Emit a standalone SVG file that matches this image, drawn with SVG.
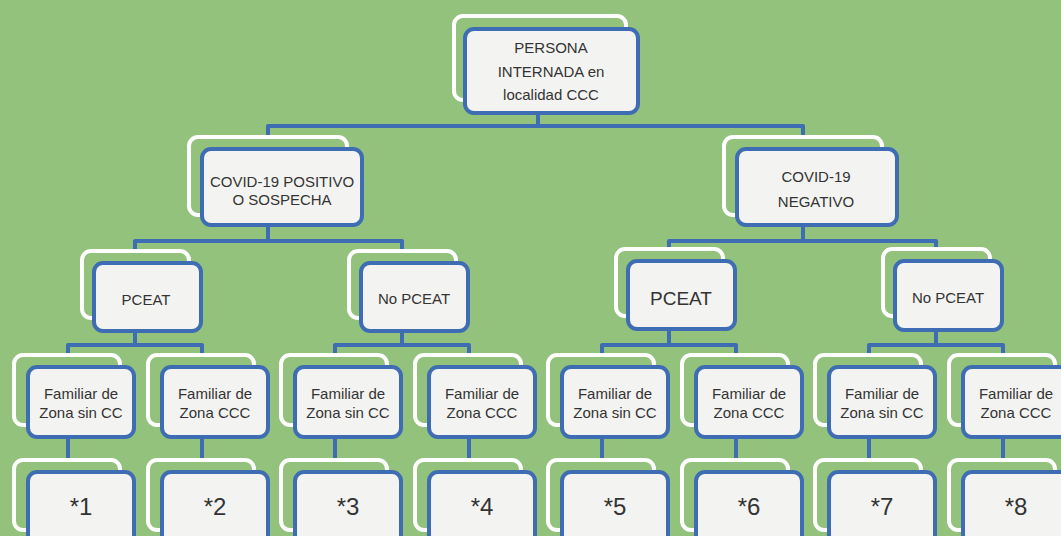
<svg xmlns="http://www.w3.org/2000/svg" width="1061" height="536" viewBox="0 0 1061 536">
<style>
.bg{fill:#92c27b}
.sh{fill:none;stroke:#ffffff;stroke-width:4}
.bx{fill:#f3f4f2;stroke:#3f6db4;stroke-width:4}
.cn{fill:none;stroke:#3f6db4;stroke-width:4;stroke-linejoin:round}
text{font-family:"Liberation Sans",Arial,sans-serif;fill:#333333;text-anchor:middle;font-size:15px}
.lf{font-size:24px}
.big{font-size:19px}
</style>
<rect class="bg" x="0" y="0" width="1061" height="536"/>
<g id="connectors">
<path class="cn" d="M538,100 V126 M268,137 V126 H803 V137"/>
<path class="cn" d="M268,200 V241 M135,251 V241 H402 V251"/>
<path class="cn" d="M803,200 V241 M669,249 V241 H936 V249"/>
<path class="cn" d="M135,300 V345 M68,355 V345 H202 V355"/>
<path class="cn" d="M402,300 V345 M335,355 V345 H469 V355"/>
<path class="cn" d="M669,300 V345 M602,355 V345 H736 V355"/>
<path class="cn" d="M936,300 V345 M869,355 V345 H1003 V355"/>
<path class="cn" d="M68,400 V460 M202,400 V460 M335,400 V460 M469,400 V460 M602,400 V460 M736,400 V460 M869,400 V460 M1003,400 V460"/>
</g>
<g id="n-root">
<rect class="sh" x="454" y="16" width="172" height="84" rx="9"/>
<rect class="bx" x="465" y="29" width="173" height="84" rx="9"/>
<text x="551" y="53">PERSONA</text>
<text x="551" y="77">INTERNADA en</text>
<text x="551" y="100">localidad CCC</text>
</g>
<g id="n-pos">
<rect class="sh" x="189" y="137" width="158" height="78" rx="9"/>
<rect class="bx" x="202" y="149" width="160" height="76" rx="9"/>
<text x="282" y="187">COVID-19 POSITIVO</text>
<text x="282" y="205">O SOSPECHA</text>
</g>
<g id="n-neg">
<rect class="sh" x="724" y="137" width="158" height="78" rx="9"/>
<rect class="bx" x="737" y="149" width="160" height="76" rx="9"/>
<text x="816" y="182">COVID-19</text>
<text x="816" y="207">NEGATIVO</text>
</g>
<g id="n-pceat1">
<rect class="sh" x="82" y="251" width="107" height="67" rx="9"/>
<rect class="bx" x="94" y="263" width="107" height="68" rx="9"/>
<text x="146" y="305">PCEAT</text>
</g>
<g id="n-nopceat1">
<rect class="sh" x="349" y="251" width="107" height="67" rx="9"/>
<rect class="bx" x="361" y="263" width="107" height="68" rx="9"/>
<text x="414" y="304">No PCEAT</text>
</g>
<g id="n-pceat2">
<rect class="sh" x="616" y="249" width="107" height="67" rx="9"/>
<rect class="bx" x="628" y="261" width="107" height="68" rx="9"/>
<text class="big" x="681" y="305">PCEAT</text>
</g>
<g id="n-nopceat2">
<rect class="sh" x="883" y="249" width="107" height="67" rx="9"/>
<rect class="bx" x="895" y="261" width="107" height="69" rx="9"/>
<text x="948" y="303">No PCEAT</text>
</g>
<g id="n-f1">
<rect class="sh" x="14" y="355" width="106" height="70" rx="9"/>
<rect class="bx" x="28" y="367" width="106" height="70" rx="9"/>
<text x="81" y="399">Familiar de</text>
<text x="81" y="418">Zona sin CC</text>
</g>
<g id="n-f2">
<rect class="sh" x="148" y="355" width="106" height="70" rx="9"/>
<rect class="bx" x="162" y="367" width="106" height="70" rx="9"/>
<text x="215" y="399">Familiar de</text>
<text x="215" y="418">Zona CCC</text>
</g>
<g id="n-f3">
<rect class="sh" x="281" y="355" width="106" height="70" rx="9"/>
<rect class="bx" x="295" y="367" width="106" height="70" rx="9"/>
<text x="348" y="399">Familiar de</text>
<text x="348" y="418">Zona sin CC</text>
</g>
<g id="n-f4">
<rect class="sh" x="415" y="355" width="106" height="70" rx="9"/>
<rect class="bx" x="429" y="367" width="106" height="70" rx="9"/>
<text x="482" y="399">Familiar de</text>
<text x="482" y="418">Zona CCC</text>
</g>
<g id="n-f5">
<rect class="sh" x="548" y="355" width="106" height="70" rx="9"/>
<rect class="bx" x="562" y="367" width="106" height="70" rx="9"/>
<text x="615" y="399">Familiar de</text>
<text x="615" y="418">Zona sin CC</text>
</g>
<g id="n-f6">
<rect class="sh" x="682" y="355" width="106" height="70" rx="9"/>
<rect class="bx" x="696" y="367" width="106" height="70" rx="9"/>
<text x="749" y="399">Familiar de</text>
<text x="749" y="418">Zona CCC</text>
</g>
<g id="n-f7">
<rect class="sh" x="815" y="355" width="106" height="70" rx="9"/>
<rect class="bx" x="829" y="367" width="106" height="70" rx="9"/>
<text x="882" y="399">Familiar de</text>
<text x="882" y="418">Zona sin CC</text>
</g>
<g id="n-f8">
<rect class="sh" x="949" y="355" width="106" height="70" rx="9"/>
<rect class="bx" x="963" y="367" width="106" height="70" rx="9"/>
<text x="1016" y="399">Familiar de</text>
<text x="1016" y="418">Zona CCC</text>
</g>
<g id="n-r1">
<rect class="sh" x="14" y="460" width="106" height="70" rx="9"/>
<rect class="bx" x="28" y="472" width="106" height="76" rx="9"/>
<text class="lf" x="81" y="515">*1</text>
</g>
<g id="n-r2">
<rect class="sh" x="148" y="460" width="106" height="70" rx="9"/>
<rect class="bx" x="162" y="472" width="106" height="76" rx="9"/>
<text class="lf" x="215" y="515">*2</text>
</g>
<g id="n-r3">
<rect class="sh" x="281" y="460" width="106" height="70" rx="9"/>
<rect class="bx" x="295" y="472" width="106" height="76" rx="9"/>
<text class="lf" x="348" y="515">*3</text>
</g>
<g id="n-r4">
<rect class="sh" x="415" y="460" width="106" height="70" rx="9"/>
<rect class="bx" x="429" y="472" width="106" height="76" rx="9"/>
<text class="lf" x="482" y="515">*4</text>
</g>
<g id="n-r5">
<rect class="sh" x="548" y="460" width="106" height="70" rx="9"/>
<rect class="bx" x="562" y="472" width="106" height="76" rx="9"/>
<text class="lf" x="615" y="515">*5</text>
</g>
<g id="n-r6">
<rect class="sh" x="682" y="460" width="106" height="70" rx="9"/>
<rect class="bx" x="696" y="472" width="106" height="76" rx="9"/>
<text class="lf" x="749" y="515">*6</text>
</g>
<g id="n-r7">
<rect class="sh" x="815" y="460" width="106" height="70" rx="9"/>
<rect class="bx" x="829" y="472" width="106" height="76" rx="9"/>
<text class="lf" x="882" y="515">*7</text>
</g>
<g id="n-r8">
<rect class="sh" x="949" y="460" width="106" height="70" rx="9"/>
<rect class="bx" x="963" y="472" width="106" height="76" rx="9"/>
<text class="lf" x="1016" y="515">*8</text>
</g>
</svg>
